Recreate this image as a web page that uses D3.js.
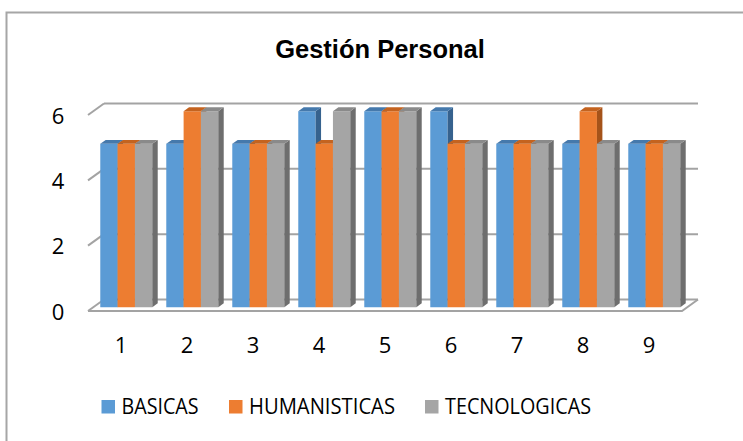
<!DOCTYPE html>
<html>
<head>
<meta charset="utf-8">
<script src="https://cdn.jsdelivr.net/npm/d3@7"></script>
<style>
  body { margin: 0; background: #fff; }
  svg { display: block; }
</style>
</head>
<body>
<svg id="chart" width="743" height="441"></svg>
<script>
// data
let categories   = ["1", "2", "3", "4", "5", "6", "7", "8", "9"];
let seriesNames  = ["BASICAS", "HUMANISTICAS", "TECNOLOGICAS"];
let basicas      = [5, 5, 5, 6, 6, 6, 5, 5, 5];
let humanisticas = [5, 6, 5, 5, 6, 5, 5, 6, 5];
let tecnologicas = [5, 6, 5, 6, 6, 5, 5, 5, 5];
let yTicks       = [0, 2, 4, 6];

let seriesValues = [basicas, humanisticas, tecnologicas];

// colours: front / top / side
let colFront = ["#5B9BD5", "#ED7D31", "#A5A5A5"];
let colTop   = ["#4579AC", "#C4631F", "#8A8A8A"];
let colSide  = ["#36628E", "#A5531A", "#6E6E6E"];
let colGrid  = "#A3A3A3";

let svg = d3.select("#chart");

// chart border (runs off right/bottom edge like the original)
svg.append("rect")
  .attr("x", 6.5).attr("y", 12.5)
  .attr("width", 800).attr("height", 500)
  .attr("fill", "none")
  .attr("stroke", "#A6A6A6")
  .attr("stroke-width", 2);

// title
svg.append("text")
  .attr("x", 380).attr("y", 58)
  .attr("text-anchor", "middle")
  .style("font-family", "'Liberation Sans', Arial, sans-serif")
  .style("font-weight", "bold")
  .style("font-size", "25.5px")
  .text("Gestión Personal");

// 3D floor geometry
let x0 = 88, x1 = 682;
let depth = [16, -11.5];       // floor depth vector
let barD0 = 0.33, barD1 = 0.67; // bar position in depth

let y = d3.scaleLinear().domain([0, 6]).range([311, 115]);

let x = d3.scaleBand()
  .domain(categories)
  .range([x0, x1])
  .paddingInner(0.212)
  .paddingOuter(0.106);

let xs = d3.scaleBand()
  .domain(seriesNames)
  .range([0, x.bandwidth()]);

let gGrid = svg.append("g");

// back wall gridlines
gGrid.selectAll("line.grid")
  .data(yTicks)
  .enter().append("line")
    .attr("class", "grid")
    .attr("x1", x0 + depth[0])
    .attr("x2", x1 + depth[0])
    .attr("y1", d => y(d) + depth[1])
    .attr("y2", d => y(d) + depth[1])
    .attr("stroke", colGrid)
    .attr("stroke-width", 2);

// left diagonal ticks
gGrid.selectAll("line.tick")
  .data(yTicks)
  .enter().append("line")
    .attr("class", "tick")
    .attr("x1", x0)
    .attr("x2", x0 + depth[0])
    .attr("y1", d => y(d))
    .attr("y2", d => y(d) + depth[1])
    .attr("stroke", colGrid)
    .attr("stroke-width", 2);

// floor front edge + right edge
gGrid.append("path")
  .attr("d", `M${x0},${y(0)} L${x1},${y(0)} L${x1 + depth[0]},${y(0) + depth[1]}`)
  .attr("fill", "none")
  .attr("stroke", colGrid)
  .attr("stroke-width", 2);

// y axis labels
svg.selectAll("text.ylab")
  .data(yTicks)
  .enter().append("text")
    .attr("class", "ylab")
    .attr("x", 58)
    .attr("y", d => y(d) + 8.5)
    .attr("text-anchor", "middle")
    .style("font-family", "'Open Sans', sans-serif")
    .style("font-size", "22px")
    .text(d => d);

// category labels
svg.selectAll("text.xlab")
  .data(categories)
  .enter().append("text")
    .attr("class", "xlab")
    .attr("x", d => x(d) + x.bandwidth() / 2)
    .attr("y", 353)
    .attr("text-anchor", "middle")
    .style("font-family", "'Open Sans', sans-serif")
    .style("font-size", "22px")
    .text(d => d);

// bars, drawn left to right (painter's order)
let bars = [];
categories.forEach((c, i) => {
  seriesNames.forEach((s, j) => {
    bars.push({cat: c, series: s, j: j, value: seriesValues[j][i]});
  });
});

let fx = depth[0] * barD0, fy = depth[1] * barD0;
let bx = depth[0] * (barD1 - barD0), by = depth[1] * (barD1 - barD0);

let gBar = svg.selectAll("g.bar")
  .data(bars)
  .enter().append("g")
    .attr("class", "bar");

gBar.each(function(d) {
  let g = d3.select(this);
  let l = x(d.cat) + xs(d.series) + fx;
  let r = l + xs.bandwidth();
  let b = y(0) + fy;
  let t = y(d.value) + fy;
  // front
  g.append("path")
    .attr("d", `M${l},${b} L${r},${b} L${r},${t} L${l},${t} Z`)
    .attr("fill", colFront[d.j]);
  // side
  g.append("path")
    .attr("d", `M${r},${b} L${r + bx},${b + by} L${r + bx},${t + by} L${r},${t} Z`)
    .attr("fill", colSide[d.j]);
  // top
  g.append("path")
    .attr("d", `M${l},${t} L${r},${t} L${r + bx},${t + by} L${l + bx},${t + by} Z`)
    .attr("fill", colTop[d.j]);
});

// legend
let legendX = [101.5, 229, 425];
let legendW = [77, 146, 146];
let legend = svg.selectAll("g.legend")
  .data(seriesNames)
  .enter().append("g")
    .attr("class", "legend");

legend.append("rect")
  .attr("x", (d, i) => legendX[i])
  .attr("y", 400)
  .attr("width", 13.5)
  .attr("height", 13.5)
  .attr("fill", (d, i) => colFront[i]);

legend.append("text")
  .attr("x", (d, i) => legendX[i] + 20)
  .attr("y", 414)
  .attr("textLength", (d, i) => legendW[i])
  .attr("lengthAdjust", "spacingAndGlyphs")
  .style("font-family", "'Open Sans', sans-serif")
  .style("font-size", "22px")
  .text(d => d);
</script>
</body>
</html>
